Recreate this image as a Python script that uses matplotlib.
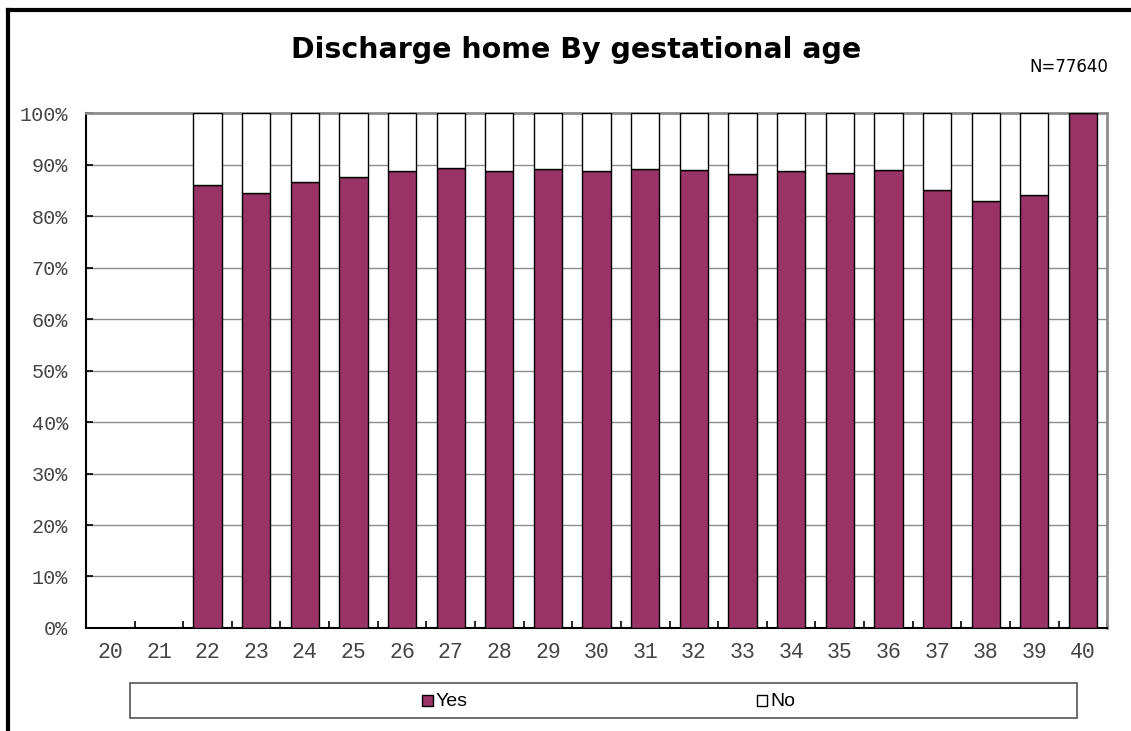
"""Stacked 100% bar chart: discharge home by gestational age."""
import matplotlib

matplotlib.use("Agg")
import matplotlib.pyplot as plt
from matplotlib.lines import Line2D
from matplotlib.patches import Rectangle
import numpy as np

WEEKS = [str(w) for w in range(20, 41)]
# Share discharged home (%); 20 and 21 weeks have no data.
YES_PCT = [np.nan, np.nan, 86.0, 84.5, 86.6, 87.6, 88.7, 89.3, 88.7, 89.2,
           88.8, 89.2, 88.9, 88.2, 88.7, 88.4, 89.0, 85.0, 82.9, 84.1, 100.0]
Y_TICKS = list(range(0, 101, 10))
SERIES = ["Yes", "No"]
TITLE = "Discharge home By gestational age"
N_LABEL = "N=77640"

YES_COLOR = "#993366"
MONO = "Liberation Mono"

yes = np.array(YES_PCT)
no = 100.0 - yes
x = np.arange(len(WEEKS))

fig = plt.figure(figsize=(11.31, 7.31), dpi=100)
ax = fig.add_axes([0.076, 0.141, 0.903, 0.704])

ax.bar(x, yes, width=0.58, color=YES_COLOR, edgecolor="black", lw=1.0, zorder=3)
ax.bar(x, no, width=0.58, bottom=yes, color="white", edgecolor="black", lw=1.0, zorder=3)

ax.set_xlim(-0.5, len(WEEKS) - 0.5)
ax.set_ylim(0, 100)
ax.set_yticks(Y_TICKS)
ax.set_yticklabels([f"{t}%" for t in Y_TICKS], fontfamily=MONO, fontsize=14.5, color="#444444")
ax.yaxis.grid(True, color="#8c8c8c", lw=1.0, zorder=0)

ax.set_xticks(x)
ax.set_xticklabels(WEEKS, fontfamily=MONO, fontsize=15.5, color="#444444")
ax.tick_params(axis="x", length=0, pad=10)
ax.set_xticks(np.arange(len(WEEKS) + 1) - 0.5, minor=True)
ax.tick_params(axis="x", which="minor", direction="in", length=5, width=1.2)
ax.tick_params(axis="y", direction="in", length=5, width=1.2, pad=13)

for side in ("top", "right"):
    ax.spines[side].set_color("#8c8c8c")
    ax.spines[side].set_linewidth(2)
for side in ("left", "bottom"):
    ax.spines[side].set_color("black")
    ax.spines[side].set_linewidth(1.5)

fig.text(0.509, 0.932, TITLE, ha="center", va="center", fontsize=20.5,
         fontweight="bold", family="DejaVu Sans")
fig.text(0.98, 0.908, N_LABEL, ha="right", va="center", fontsize=12, family="DejaVu Sans")

# legend box along the bottom, entries placed near the centre of each half
fig.add_artist(Rectangle((0.115, 0.018), 0.837, 0.048, transform=fig.transFigure,
                         facecolor="white", edgecolor="#555555", lw=1.2))
entry_x = [0.373, 0.669]
for ex, name, fc in zip(entry_x, SERIES, [YES_COLOR, "white"]):
    fig.add_artist(Rectangle((ex, 0.0345), 0.0095, 0.0150, transform=fig.transFigure,
                             facecolor=fc, edgecolor="black", lw=1.0))
    fig.text(ex + 0.0125, 0.041, name, ha="left", va="center", fontsize=14,
             family="Liberation Sans")

# chart-area frame: thick black on top and left
fig.add_artist(Line2D([0.007, 1.0], [0.986, 0.986], color="black", lw=3))
fig.add_artist(Line2D([0.007, 0.007], [0.0, 0.986], color="black", lw=3))

fig.savefig("out.png", dpi=100)
